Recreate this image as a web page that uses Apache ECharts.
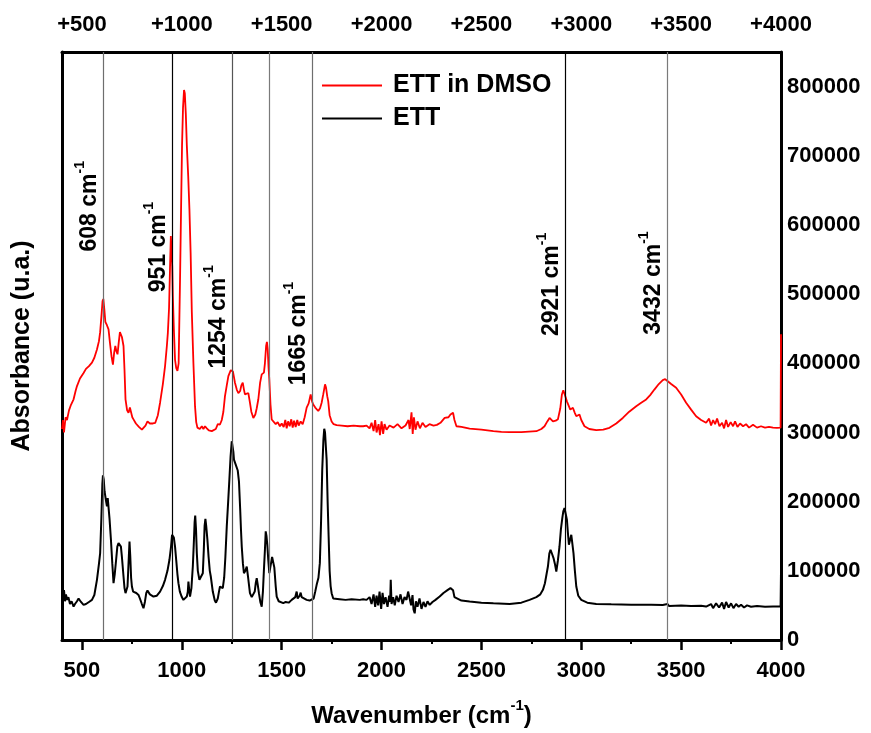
<!DOCTYPE html>
<html>
<head>
<meta charset="utf-8">
<script src="https://cdn.jsdelivr.net/npm/echarts@6/dist/echarts.min.js"></script>
<style>
html,body{margin:0;padding:0;background:#fff;}
#chart{width:871px;height:733px;}
</style>
</head>
<body>
<div id="chart"></div>
<script>
// ---- Data ----
const wnRed = [400,405,410,418,425,435,445,458,468,475,490,508,520,535,550,562,575,585,591,598,603,607,612,617,625,633,640,648,655,661,667,672,678,684,690,695,700,708,713,718,726,733,740,745,752,758,770,785,800,808,818,828,840,855,867,880,891,905,916,925,930,936,941,945,948,952,955,960,966,972,978,984,991,996,1001,1006,1011,1015,1020,1025,1032,1038,1044,1050,1058,1066,1072,1078,1090,1100,1108,1116,1125,1135,1150,1160,1170,1180,1191,1200,1208,1216,1225,1233,1245,1250,1256,1266,1275,1283,1292,1298,1305,1311,1316,1325,1333,1340,1348,1358,1368,1375,1383,1392,1400,1406,1411,1416,1422,1426,1430,1434,1438,1444,1450,1460,1470,1480,1491,1500,1510,1518,1525,1532,1540,1548,1555,1562,1570,1578,1585,1595,1605,1615,1625,1635,1645,1652,1658,1668,1683,1692,1700,1708,1717,1722,1728,1733,1740,1750,1760,1775,1800,1830,1860,1892,1908,1925,1940,1950,1960,1968,1975,1985,1992,2000,2008,2015,2025,2040,2060,2080,2100,2120,2135,2141,2150,2156,2162,2170,2180,2192,2205,2220,2240,2260,2277,2295,2316,2335,2345,2358,2365,2375,2400,2441,2500,2560,2600,2641,2700,2775,2800,2816,2830,2841,2858,2872,2883,2895,2903,2910,2916,2928,2945,2952,2958,2968,2975,2983,2991,3000,3016,3040,3075,3110,3141,3175,3208,3240,3275,3300,3325,3345,3366,3388,3408,3420,3433,3450,3475,3500,3525,3550,3575,3600,3625,3640,3650,3660,3670,3680,3692,3705,3715,3725,3735,3748,3760,3770,3782,3795,3810,3825,3840,3860,3880,3900,3920,3940,3960,3980,3998,4000];
const absRed = [305000,318000,300000,322000,318000,332000,340000,348000,360000,367000,378000,386000,392000,396000,401000,408000,420000,432000,445000,470000,490000,493000,478000,460000,455000,449000,430000,410000,398000,415000,425000,418000,413000,430000,445000,447000,438000,425000,390000,348000,332000,328500,336000,336000,322000,319000,313000,308000,304000,304000,310000,316000,313000,313000,314000,325000,343000,370000,396000,425000,444000,480000,540000,584000,585000,540000,497000,450000,405000,393000,389000,400000,521000,620000,715000,770000,795000,790000,760000,715000,670000,623000,560000,474000,400000,338000,315000,307000,305000,309000,305000,309000,306000,303000,302000,303000,305000,312000,311500,318000,330000,352500,368000,381500,390000,392000,388000,372000,362000,357000,360000,368000,372000,362000,355000,357000,357000,345000,330000,321000,326000,335000,348000,372000,384000,386000,386500,400000,425000,431000,420000,395000,376700,340000,318800,316000,312000,315000,309000,313000,308000,318000,306000,316000,309000,319000,307000,317000,308000,318000,310000,316000,312000,322000,336000,342000,355000,345000,340500,336000,331000,335000,343000,355000,369500,365000,352500,345000,325000,316000,312000,310500,310000,309000,310000,309000,309000,310000,306000,314000,302000,318000,300000,312000,296000,316000,298000,312000,304000,310000,307000,312000,306000,310000,318000,305000,329000,298000,322000,304000,316000,306000,314000,308000,312000,310000,311000,314000,321000,322000,326000,328500,318000,309000,308000,305700,304000,302000,301000,300400,300500,301800,305000,309000,316000,321000,316000,317000,319000,335000,355000,361000,356000,345000,333000,334000,335700,328000,323500,325000,326000,318000,309000,305000,303300,304000,306700,313000,321000,330000,338000,343000,347700,354000,362000,370000,375700,377000,374000,370000,364700,355000,343000,333000,323500,318000,314000,320000,310000,318000,312000,320000,309000,314000,306000,318000,308000,315000,309000,316000,308000,313000,309000,312000,307000,311000,307000,309000,307000,308000,307000,306700,307000,442000];

const wnBlack = [400,403,406,410,415,420,425,432,440,448,458,465,475,483,488,495,508,520,535,550,562,575,585,591,597,602,605,609,613,617,621,625,629,633,638,645,652,658,664,671,677,683,690,695,700,708,713,718,723,728,733,738,742,746,750,756,763,772,783,790,800,808,815,822,828,840,858,875,891,905,916,928,938,946,951,955,960,966,972,978,983,990,1000,1008,1018,1025,1030,1033,1037,1041,1048,1055,1060,1064,1067,1071,1075,1080,1088,1095,1105,1110,1114,1118,1122,1128,1134,1140,1145,1155,1165,1171,1180,1186,1191,1198,1205,1212,1218,1225,1232,1238,1244,1250,1254,1258,1261,1268,1275,1280,1286,1292,1296,1300,1306,1311,1318,1325,1332,1341,1350,1358,1365,1370,1375,1380,1386,1393,1400,1406,1411,1416,1420,1424,1428,1433,1438,1441,1446,1452,1458,1463,1470,1475,1485,1495,1508,1520,1535,1550,1560,1568,1575,1580,1583,1590,1595,1600,1610,1625,1640,1650,1660,1668,1675,1684,1691,1697,1703,1709,1713,1717,1721,1725,1730,1735,1740,1745,1750,1758,1766,1790,1820,1850,1891,1908,1925,1940,1950,1960,1968,1975,1983,1990,1998,2005,2012,2020,2030,2038,2043,2046,2050,2058,2066,2075,2085,2095,2105,2115,2125,2133,2141,2148,2155,2160,2166,2172,2180,2190,2200,2210,2220,2230,2241,2255,2270,2291,2310,2330,2345,2350,2358,2365,2375,2400,2441,2500,2560,2641,2700,2741,2775,2795,2808,2818,2826,2833,2840,2846,2853,2861,2868,2875,2883,2891,2898,2905,2910,2916,2922,2928,2933,2938,2944,2950,2955,2961,2968,2975,2985,3000,3030,3075,3150,3250,3350,3408,3432,3440,3500,3550,3600,3625,3650,3660,3675,3690,3705,3715,3725,3738,3750,3762,3775,3788,3800,3815,3830,3850,3880,3920,3960,3998,4000];
const absBlack = [68000,82000,60000,72000,56000,66000,58000,62000,52000,56000,48300,52000,56000,60000,62800,55000,50700,52000,55000,58000,65000,87000,110000,125600,175000,225000,238000,232000,215000,212600,200000,193100,205000,205300,175000,145000,110000,82200,95000,116000,135000,140000,138000,135000,120000,91800,75000,67700,70000,77300,110000,142400,120000,90000,77300,70000,67700,68000,65200,60000,52000,45900,55000,68000,71500,66000,62800,64000,70000,78000,87000,100000,116000,135000,152000,154600,148000,135000,115000,95000,82200,70000,62000,58000,60000,62800,70000,84500,72000,62800,75000,106200,140000,170000,180000,160000,125600,100000,87000,88000,96600,130000,165000,175000,165000,145000,120000,100000,91800,70000,57000,54000,60000,70000,77300,75000,74900,90000,120000,164200,200000,231800,265000,287300,285000,272000,260800,255000,253600,245000,229400,190000,160000,135200,110000,96600,100000,106200,90000,67700,62000,62800,70000,82000,89400,80000,67700,55000,48300,70000,101400,130000,157000,150000,137700,115000,96600,96600,110000,120000,121700,105000,78000,62800,56000,54000,53200,55000,54000,58000,56000,62000,70000,60000,58000,64000,68500,62000,60000,58000,57000,55500,60000,70000,79700,90000,111100,170000,246300,290000,305300,300000,280000,260800,200000,149700,100000,78000,67700,60000,58000,59000,58000,59000,58000,59000,58000,62000,52000,66000,48000,64000,50000,70000,45000,68000,52000,62000,48000,64000,55000,87000,52000,62000,50000,64000,55000,66000,52000,62000,58000,70000,67700,50000,65000,44000,38600,56000,48000,60000,45000,55000,48000,56000,50700,55000,58000,62800,68000,72000,75000,77300,72000,62000,60400,57000,55500,54000,53000,52200,54000,58000,62000,66000,72500,82000,95000,106200,125000,130400,125000,118400,110000,99000,115000,135200,160000,176300,186000,190800,188000,174000,155000,137700,145000,152100,140000,125600,100000,77300,64000,58000,54000,52200,51500,51000,51000,50700,52000,49000,50000,49000,49500,48300,52000,46000,53000,47000,54000,45000,55000,47000,53000,46000,52000,48000,51000,47000,50000,48000,49000,48000,48500,48300,99000];

const xTickValues = [500,1000,1500,2000,2500,3000,3500,4000];
const xMinorTickValues = [750,1250,1750,2250,2750,3250,3750];
const yTickValues = [0,100000,200000,300000,400000,500000,600000,700000,800000];

const refLines = [608,951,1254,1436,1653,2921,3428];
const refLineColors = ['#6e6e6e','#000000','#555555','#7a7a7a','#6e6e6e','#000000','#7a7a7a'];
const annWn = [608,951,1254,1653,2921,3428];
const annText = ['608 cm','951 cm','1254 cm','1665 cm','2921 cm','3432 cm'];
const annY = [627000,568000,467000,443000,514000,516000];

// ---- build ----
const redData = wnRed.map((w,i)=>[w,absRed[i]]);
const blackData = wnBlack.map((w,i)=>[w,absBlack[i]]);
const annData = annWn.map((w,i)=>({value:[w,annY[i]], name:annText[i]}));

const FONT = 'Arial, "Liberation Sans", Helvetica, sans-serif';
const chart = echarts.init(document.getElementById('chart'), null, {renderer:'canvas'});
const option = {
  animation:false,
  backgroundColor:'#ffffff',
  textStyle:{fontFamily:FONT},
  grid:{left:62, right:90, top:52, bottom:93, containLabel:false, outerBoundsMode:'none'},
  legend:{
    orient:'vertical', left:317, top:68, itemWidth:60, itemHeight:2, itemGap:8,
    icon:'rect',
    data:[{name:'ETT in DMSO', itemStyle:{color:'#ff0000'}},{name:'ETT', itemStyle:{color:'#000000'}}],
    textStyle:{fontFamily:FONT, fontSize:25, fontWeight:'bold', color:'#000', padding:[0,0,0,6]},
    selectedMode:false
  },
  xAxis:[
    {type:'value', position:'bottom', min:400, max:4000,
     axisLine:{show:true, onZero:false, lineStyle:{color:'#000', width:3}},
     axisTick:{show:true, inside:false, length:10, customValues:xTickValues, lineStyle:{color:'#000', width:2.5}},
     axisLabel:{show:true, customValues:xTickValues, margin:20, fontSize:22, fontWeight:'bold', color:'#000', fontFamily:FONT, formatter:v=>String(v)},
     splitLine:{show:false},
     name:'{a|Wavenumber (cm}{s|-1}{a|)}', nameLocation:'middle', nameGap:58,
     nameTextStyle:{rich:{a:{fontSize:24, fontWeight:'bold', color:'#000', fontFamily:FONT, lineHeight:30, verticalAlign:'bottom'}, s:{fontSize:15, fontWeight:'bold', color:'#000', fontFamily:FONT, verticalAlign:'top', lineHeight:15}}}
    },
    {type:'value', position:'top', min:400, max:4000,
     axisLine:{show:true, onZero:false, lineStyle:{color:'#000', width:3}},
     axisTick:{show:false},
     axisLabel:{show:true, customValues:xTickValues, margin:16, fontSize:22, fontWeight:'bold', color:'#000', fontFamily:FONT, formatter:v=>'+'+String(v)},
     splitLine:{show:false}
    },
    {type:'value', position:'bottom', min:400, max:4000,
     axisLine:{show:false, onZero:false},
     axisTick:{show:true, inside:false, length:4, customValues:xMinorTickValues, lineStyle:{color:'#000', width:2}},
     axisLabel:{show:false},
     splitLine:{show:false}
    }
  ],
  yAxis:[
    {type:'value', position:'left', min:0, max:850000,
     axisLine:{show:true, onZero:false, lineStyle:{color:'#000', width:3}},
     axisTick:{show:false}, axisLabel:{show:false}, splitLine:{show:false},
     name:'Absorbance (u.a.)', nameLocation:'middle', nameGap:27,
     nameTextStyle:{fontSize:25, fontWeight:'bold', color:'#000', fontFamily:FONT}
    },
    {type:'value', position:'right', min:0, max:850000,
     axisLine:{show:true, onZero:false, lineStyle:{color:'#000', width:3}},
     axisTick:{show:false},
     axisLabel:{show:true, customValues:yTickValues, margin:6, fontSize:22, fontWeight:'bold', color:'#000', fontFamily:FONT, formatter:v=>String(v)},
     splitLine:{show:false}
    }
  ],
  series:[
    {type:'scatter', name:'annotations', xAxisIndex:0, yAxisIndex:1, z:1,
     data:annData, symbolSize:0, silent:true, itemStyle:{opacity:1},
     emphasis:{disabled:true},
     label:{show:true, position:'left', distance:16, rotate:90, align:'center', verticalAlign:'middle', opacity:1, color:'#000',
       formatter:p=>'{a|'+p.name+'}{s|-1}',
       rich:{a:{fontSize:23, fontWeight:'bold', color:'#000', fontFamily:FONT, lineHeight:28, verticalAlign:'bottom', opacity:1}, s:{fontSize:14, fontWeight:'bold', color:'#000', fontFamily:FONT, verticalAlign:'top', lineHeight:14, opacity:1}}},
     markLine:{silent:true, symbol:'none', label:{show:false},
       data:refLines.map((x,i)=>({xAxis:x, lineStyle:{color:refLineColors[i], width:1.2, type:'solid', opacity:1}}))}
    },
    {type:'line', name:'ETT in DMSO', xAxisIndex:0, yAxisIndex:1, z:3,
     data:redData, showSymbol:false, symbol:'none', lineStyle:{color:'#ff0000', width:1.8}, itemStyle:{color:'#ff0000'}},
    {type:'line', name:'ETT', xAxisIndex:0, yAxisIndex:1, z:3,
     data:blackData, showSymbol:false, symbol:'none', lineStyle:{color:'#000000', width:2}, itemStyle:{color:'#000000'}}
  ]
};
chart.setOption(option);
</script>
</body>
</html>
